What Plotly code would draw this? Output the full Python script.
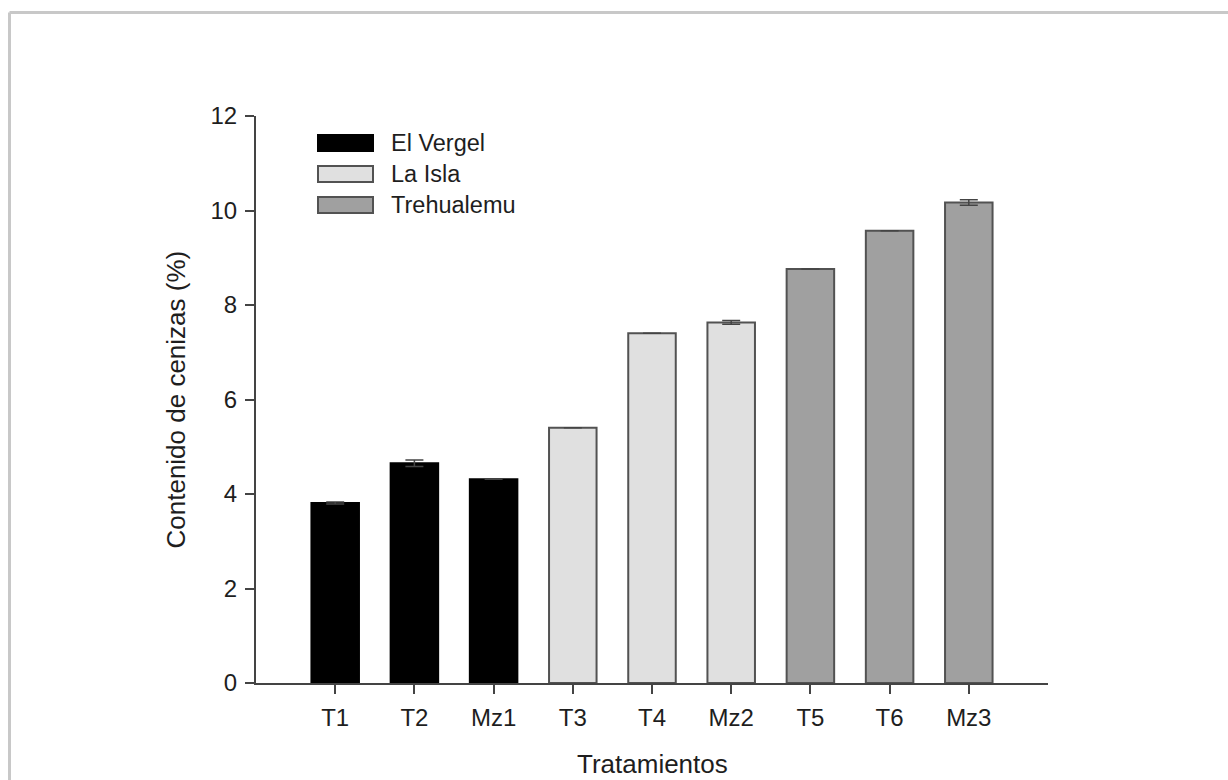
import plotly.graph_objects as go

# Ash content per treatment, grouped by site
categories = ["T1", "T2", "Mz1", "T3", "T4", "Mz2", "T5", "T6", "Mz3"]
sites = ["El Vergel", "La Isla", "Trehualemu"]
site_treatments = [["T1", "T2", "Mz1"], ["T3", "T4", "Mz2"], ["T5", "T6", "Mz3"]]
ash_values = [[3.81, 4.65, 4.31], [5.40, 7.40, 7.63], [8.76, 9.57, 10.17]]
ash_errors = [[0.02, 0.07, 0.0], [0.0, 0.0, 0.04], [0.0, 0.0, 0.06]]
y_ticks = [0, 2, 4, 6, 8, 10, 12]
x_title = "Tratamientos"
y_title = "Contenido de cenizas (%)"

fills = ["#000000", "#e0e0e0", "#a0a0a0"]
outlines = ["#000000", "#525252", "#525252"]

W, H = 1228, 780
L, R, T, B = 256, 1048, 116, 683

fig = go.Figure()
for site, cats, vals, errs, fc, lc in zip(sites, site_treatments, ash_values,
                                          ash_errors, fills, outlines):
    fig.add_trace(go.Bar(
        x=cats, y=vals, name=site, width=0.6,
        marker=dict(color=fc, line=dict(color=lc, width=2)),
        error_y=dict(type="data", array=errs, visible=True,
                     color="#444444", thickness=1.5, width=9),
        showlegend=False,
    ))


def px_x(px):
    return (px - L) / (R - L)


def px_y(py):
    return (B - py) / (B - T)


shapes = []
annotations = []
# Legend swatches and labels
for i, (site, fc, lc) in enumerate(zip(sites, fills, outlines)):
    cy = 143 + i * 31
    shapes.append(dict(type="rect", xref="paper", yref="paper",
                       x0=px_x(318), x1=px_x(373), y0=px_y(cy + 8), y1=px_y(cy - 8),
                       fillcolor=fc, line=dict(color=lc, width=2)))
    annotations.append(dict(text=site, xref="paper", yref="paper",
                            x=px_x(389), y=px_y(cy), xanchor="left", yanchor="middle",
                            showarrow=False,
                            font=dict(size=23.5, color="#1e1e1e")))

# Axis titles
annotations.append(dict(text=x_title, xref="paper", yref="paper",
                        x=0.5, y=px_y(764), xanchor="center", yanchor="middle",
                        showarrow=False, font=dict(size=26, color="#1e1e1e")))
annotations.append(dict(text=y_title, xref="paper", yref="paper",
                        x=px_x(175), y=0.5, xanchor="center", yanchor="middle",
                        textangle=-90, showarrow=False,
                        font=dict(size=26, color="#1e1e1e")))

# Outer frame (top and left edges visible)
frame_x = px_x(9.5)
frame_y = px_y(12.5)
shapes.append(dict(type="line", xref="paper", yref="paper",
                   x0=frame_x, x1=px_x(1240), y0=frame_y, y1=frame_y,
                   line=dict(color="#c8c8c8", width=3)))
shapes.append(dict(type="line", xref="paper", yref="paper",
                   x0=frame_x, x1=frame_x, y0=frame_y, y1=px_y(800),
                   line=dict(color="#c8c8c8", width=3)))

fig.update_layout(
    width=W, height=H,
    margin=dict(l=L, r=W - R, t=T, b=H - B, autoexpand=False),
    paper_bgcolor="white", plot_bgcolor="white",
    font=dict(family="Liberation Sans, Arial, sans-serif", size=24, color="#1e1e1e"),
    bargap=0.4,
    shapes=shapes,
    annotations=annotations,
    xaxis=dict(
        categoryorder="array", categoryarray=categories,
        range=[-1, 9], automargin=False,
        showline=True, linecolor="#444444", linewidth=2,
        ticks="outside", ticklen=9, tickwidth=2, tickcolor="#444444",
        showgrid=False, zeroline=False,
        tickfont=dict(size=24), ticklabelstandoff=3,
    ),
    yaxis=dict(
        range=[0, 12], tickvals=y_ticks, automargin=False,
        showline=True, linecolor="#444444", linewidth=2,
        ticks="outside", ticklen=9, tickwidth=2, tickcolor="#444444",
        showgrid=False, zeroline=False,
        tickfont=dict(size=24), ticklabelstandoff=3,
    ),
)

fig.write_html("out.html")
